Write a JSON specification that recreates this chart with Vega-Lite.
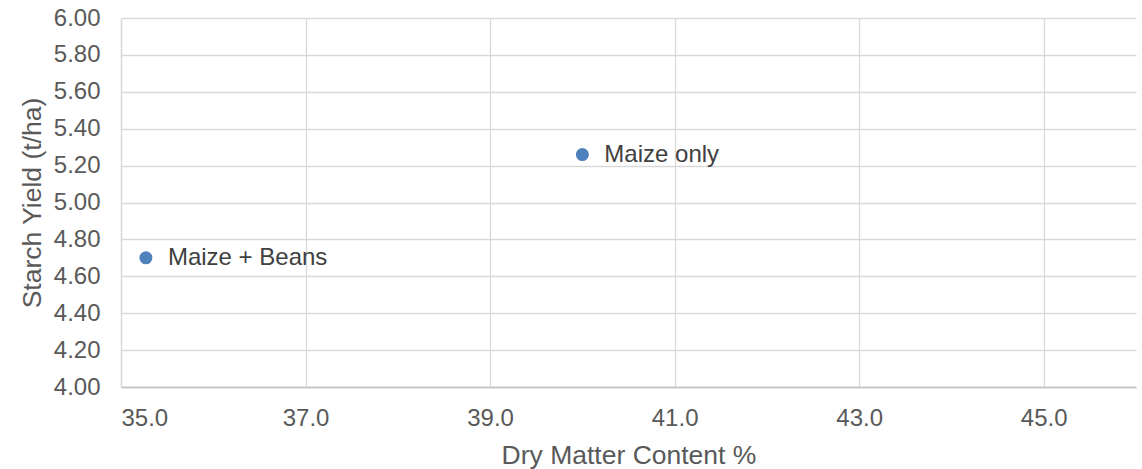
{
  "$schema": "https://vega.github.io/schema/vega-lite/v6.json",
  "width": 1015,
  "height": 369,
  "autosize": {"type": "none"},
  "padding": {"left": 121, "top": 18, "right": 6, "bottom": 82},
  "background": "white",
  "config": {
    "view": {"stroke": null},
    "font": "Liberation Sans",
    "axis": {
      "labelFont": "Liberation Sans",
      "titleFont": "Liberation Sans",
      "labelColor": "#595959",
      "titleColor": "#595959",
      "labelFontSize": 24,
      "titleFontSize": 26.5,
      "titleFontWeight": "normal",
      "gridColor": "#d9d9d9",
      "gridWidth": 1.3,
      "ticks": false
    }
  },
  "data": {
    "values": [
      {"dm": 40.0, "starch": 5.26, "label": "Maize only"},
      {"dm": 35.27, "starch": 4.70, "label": "Maize + Beans"}
    ]
  },
  "encoding": {
    "x": {
      "field": "dm",
      "type": "quantitative",
      "scale": {"domain": [35, 46], "nice": false, "zero": false},
      "axis": {
        "title": "Dry Matter Content %",
        "values": [35, 37, 39, 41, 43, 45],
        "format": ".1f",
        "labelPadding": 19,
        "titlePadding": 12,
        "domainColor": "#bfbfbf",
        "domainWidth": 1.3
      }
    },
    "y": {
      "field": "starch",
      "type": "quantitative",
      "scale": {"domain": [4, 6], "nice": false, "zero": false},
      "axis": {
        "title": "Starch Yield (t/ha)",
        "values": [4.0, 4.2, 4.4, 4.6, 4.8, 5.0, 5.2, 5.4, 5.6, 5.8, 6.0],
        "format": ".2f",
        "labelPadding": 21,
        "titlePadding": 7,
        "domainColor": "#d9d9d9",
        "domainWidth": 1.3
      }
    }
  },
  "layer": [
    {
      "mark": {"type": "point", "filled": true, "opacity": 1, "size": 170, "color": "#4f81bd", "shape": "circle"}
    },
    {
      "mark": {"type": "text", "align": "left", "baseline": "middle", "dx": 22, "fontSize": 24, "color": "#404040", "font": "Liberation Sans"},
      "encoding": {"text": {"field": "label"}}
    }
  ]
}
